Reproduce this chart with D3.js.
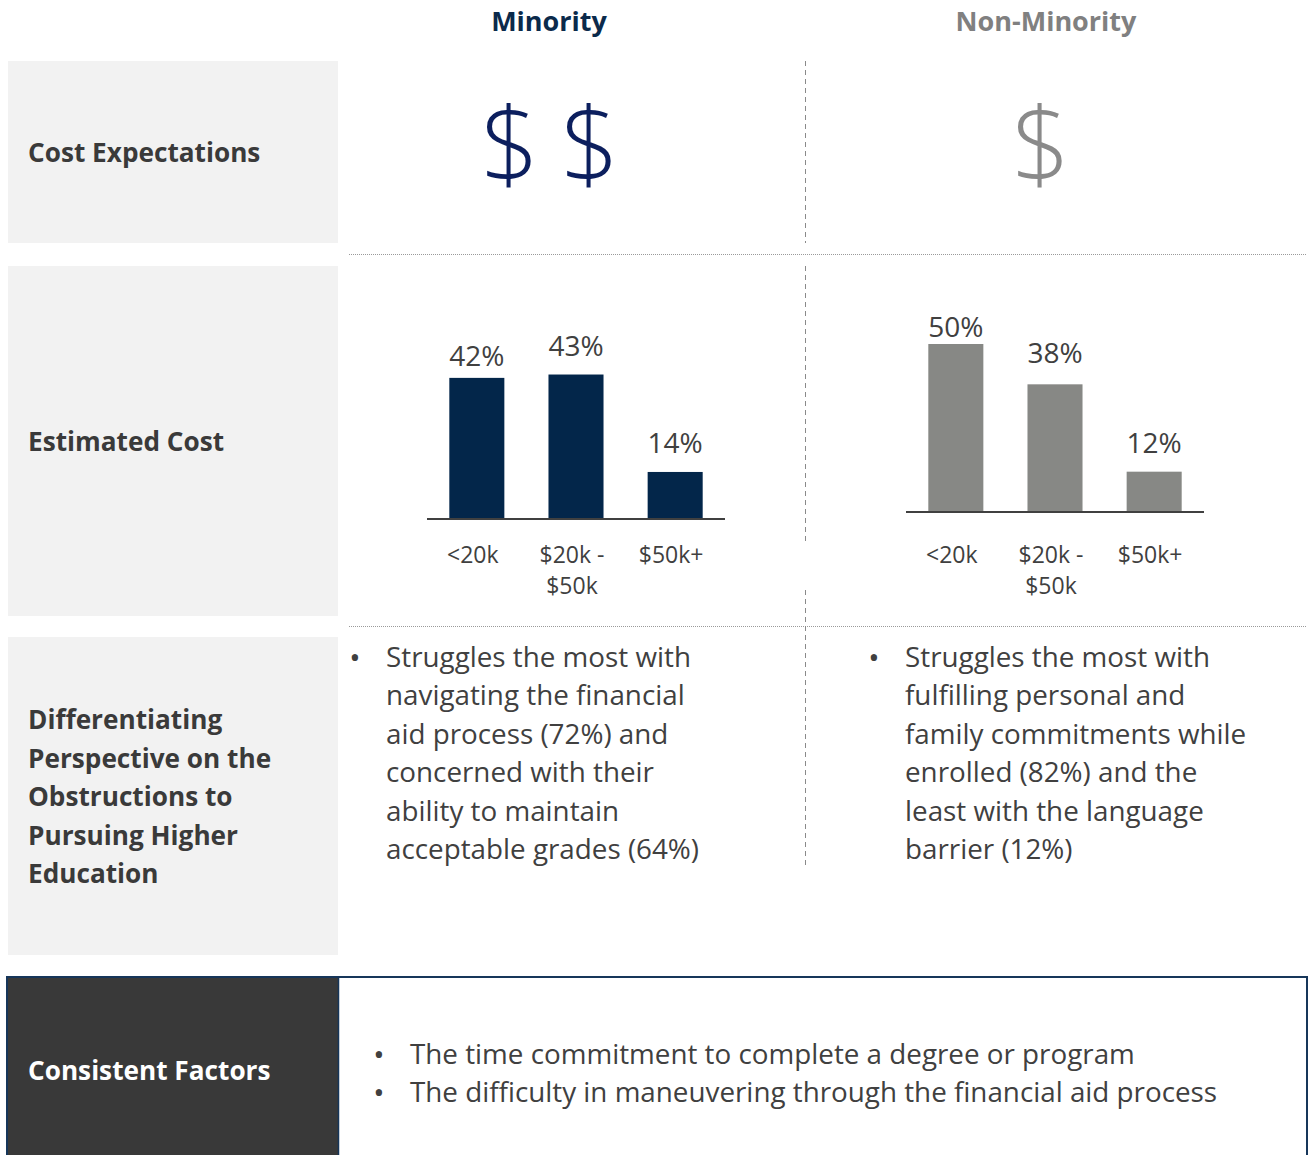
<!DOCTYPE html>
<html>
<head>
<meta charset="utf-8">
<script src="https://cdn.jsdelivr.net/npm/d3@7"></script>
<style>
  html, body { margin: 0; padding: 0; background: #fff; }
  svg { display: block; font-family: "Open Sans", "Noto Sans", sans-serif; }
</style>
</head>
<body>
<svg id="chart" width="1311" height="1155"></svg>
<script>
// ---------------- data ----------------
const groups = ["Minority", "Non-Minority"];
const rowLabels = [
  ["Cost Expectations"],
  ["Estimated Cost"],
  ["Differentiating", "Perspective on the", "Obstructions to", "Pursuing Higher", "Education"]
];
const dollarCounts = [2, 1];
const categories = ["<20k", "$20k - $50k", "$50k+"];
const categoryLines = [["<20k"], ["$20k -", "$50k"], ["$50k+"]];
const minorityValues = [42, 43, 14];
const nonMinorityValues = [50, 38, 12];
const minorityBullet = ["Struggles the most with", "navigating the financial", "aid process (72%) and",
  "concerned with their", "ability to maintain", "acceptable grades (64%)"];
const nonMinorityBullet = ["Struggles the most with", "fulfilling personal and",
  "family commitments while", "enrolled (82%) and the", "least with the language", "barrier (12%)"];
const consistentLabel = "Consistent Factors";
const consistentFactors = ["The time commitment to complete a degree or program",
  "The difficulty in maneuvering through the financial aid process"];

// ---------------- layout / style ----------------
const navy = "#0b2a4b";
const dollarNavy = "#0c1f5e";
const grey = "#878885";
const textCol = "#404040";
const bodySize = 27.8;
const svg = d3.select("#chart");

// left label boxes
const boxes = [{y: 61, h: 182}, {y: 266, h: 350}, {y: 637, h: 318}];
svg.selectAll("rect.lbl").data(boxes).join("rect")
  .attr("x", 8).attr("y", d => d.y).attr("width", 330).attr("height", d => d.h)
  .attr("fill", "#f2f2f2");

const labelCenters = [153, 442, 797];
rowLabels.forEach((lines, i) => {
  const lh = 38.5;
  const y0 = labelCenters[i] - (lines.length - 1) * lh / 2;
  svg.append("text").attr("x", 28).attr("font-size", 26.2).attr("font-weight", 700)
    .attr("fill", "#3a3a3a")
    .selectAll("tspan").data(lines).join("tspan")
    .attr("x", 28).attr("y", (d, j) => y0 + j * lh).attr("dy", "0.35em").text(d => d);
});

// column headers
const colCenters = [549, 1046];
svg.selectAll("text.hdr").data(groups).join("text")
  .attr("x", (d, i) => colCenters[i]).attr("y", 22).attr("dy", "0.35em")
  .attr("text-anchor", "middle").attr("font-size", 27).attr("font-weight", 700)
  .attr("fill", (d, i) => i === 0 ? navy : "#808080").text(d => d);

// separators
const hLines = [254, 626];
svg.selectAll("line.h").data(hLines).join("line")
  .attr("x1", 349).attr("x2", 1306).attr("y1", d => d + 0.5).attr("y2", d => d + 0.5)
  .attr("stroke", "#9a9a9a").attr("stroke-width", 1).attr("stroke-dasharray", "1,1");
const vSegs = [[61, 243], [266, 541], [590, 866]];
svg.selectAll("line.v").data(vSegs).join("line")
  .attr("x1", 805.5).attr("x2", 805.5).attr("y1", d => d[0]).attr("y2", d => d[1])
  .attr("stroke", "#8a8a8a").attr("stroke-width", 1).attr("stroke-dasharray", "5,4");

// dollar signs
const dollarCenters = [550, 1041];
dollarCounts.forEach((n, i) => {
  const xs = d3.range(n).map(k => dollarCenters[i] + (k - (n - 1) / 2) * 80);
  svg.selectAll(null).data(xs).join("text")
    .attr("x", d => d).attr("y", 182).attr("text-anchor", "middle")
    .attr("font-size", 103).attr("font-weight", 350)
    .attr("fill", i === 0 ? dollarNavy : "#8a8a8a").text("$");
});

// bar charts
const yScale = d3.scaleLinear().domain([0, 50]).range([0, 168]);
const charts = [
  {values: minorityValues, x0: 427, base: 519, fill: "#03264a", nudge: [7, 0, 0]},
  {values: nonMinorityValues, x0: 906, base: 512, fill: grey, nudge: [12, -2, 0]}
];
charts.forEach(c => {
  const x = d3.scaleBand().domain(categories).range([c.x0, c.x0 + 298])
    .paddingInner(0.445).paddingOuter(0.225);
  const g = svg.append("g");
  g.selectAll("rect").data(c.values).join("rect")
    .attr("x", (d, i) => x(categories[i])).attr("width", x.bandwidth())
    .attr("y", d => c.base - yScale(d)).attr("height", d => yScale(d))
    .attr("fill", c.fill);
  g.selectAll("text.val").data(c.values).join("text")
    .attr("x", (d, i) => x(categories[i]) + x.bandwidth() / 2)
    .attr("y", (d, i) => c.base - yScale(d) - 19 + c.nudge[i])
    .attr("text-anchor", "middle").attr("font-size", 28).attr("fill", textCol)
    .text(d => d + "%");
  const axis = d3.axisBottom(x).tickSize(0).tickFormat("");
  const ag = g.append("g").attr("transform", `translate(0,${c.base})`).call(axis);
  ag.select(".domain").attr("stroke", textCol).attr("stroke-width", 2.2)
    .attr("d", `M${c.x0},0H${c.x0 + 298}`);
  categories.forEach((cat, i) => {
    const cx = x(cat) + x.bandwidth() / 2 - 4;
    g.append("text").attr("text-anchor", "middle").attr("font-size", 23).attr("fill", textCol)
      .selectAll("tspan").data(categoryLines[i]).join("tspan")
      .attr("x", cx).attr("y", (d, j) => 563 + j * 31).text(d => d);
  });
});

// bullets in row 3
const bulletCols = [{bx: 355, tx: 386, lines: minorityBullet}, {bx: 874, tx: 905, lines: nonMinorityBullet}];
bulletCols.forEach(b => {
  svg.append("text").attr("x", b.bx).attr("y", 657).attr("dy", "0.35em")
    .attr("font-size", 30).attr("fill", textCol).attr("text-anchor", "middle").text("•");
  svg.append("text").attr("font-size", bodySize).attr("fill", textCol)
    .selectAll("tspan").data(b.lines).join("tspan")
    .attr("x", b.tx).attr("y", (d, j) => 657 + j * 38.5).attr("dy", "0.35em").text(d => d);
});

// bottom panel
svg.append("rect").attr("x", 7).attr("y", 977).attr("width", 1300).attr("height", 200)
  .attr("fill", "#fff").attr("stroke", "#16365a").attr("stroke-width", 2);
svg.append("rect").attr("x", 8).attr("y", 978).attr("width", 330).attr("height", 200)
  .attr("fill", "#393939");
svg.append("line").attr("x1", 338.5).attr("x2", 338.5).attr("y1", 977).attr("y2", 1155)
  .attr("stroke", "#16365a").attr("stroke-width", 1.5);
svg.append("text").attr("x", 28).attr("y", 1071).attr("dy", "0.35em")
  .attr("font-size", 26.2).attr("font-weight", 700).attr("fill", "#ffffff").text(consistentLabel);
consistentFactors.forEach((t, j) => {
  const y = 1054 + j * 38;
  svg.append("text").attr("x", 379).attr("y", y).attr("dy", "0.35em").attr("text-anchor", "middle")
    .attr("font-size", 30).attr("fill", textCol).text("•");
  svg.append("text").attr("x", 410).attr("y", y).attr("dy", "0.35em")
    .attr("font-size", bodySize).attr("fill", textCol).text(t);
});
</script>
</body>
</html>
